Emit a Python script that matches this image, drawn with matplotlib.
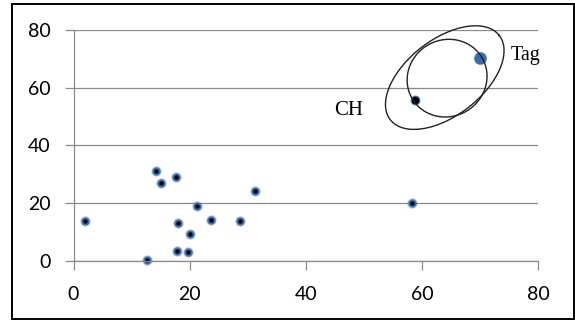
import numpy as np
import matplotlib
matplotlib.use("Agg")
import matplotlib.pyplot as plt
from matplotlib.patches import Rectangle

# scattered sensor nodes
node_x = [1.9, 12.6, 14.2, 15.1, 17.6, 18.0, 17.8, 19.7, 20.1, 21.3, 23.7, 28.7, 31.2, 58.3]
node_y = [13.7, 0.1, 31.1, 27.0, 29.1, 13.2, 3.5, 3.0, 9.1, 18.9, 14.1, 13.7, 24.2, 20.0]

ch_x, ch_y = [58.8], [55.8]
tag_x, tag_y = [69.9], [70.2]

x_ticks = [0, 20, 40, 60, 80]
y_ticks = [0, 20, 40, 60, 80]

W, H = 575, 320
left, right, top, bottom = 73.5, 538.3, 30.0, 260.7

fig = plt.figure(figsize=(W / 100, H / 100), dpi=100)
ax = fig.add_axes([left / W, (H - bottom) / H, (right - left) / W, (bottom - top) / H])

# outer frame
fig.patches.append(Rectangle((12 / W, 1.2 / H), 561.8 / W, 314.8 / H, transform=fig.transFigure,
                             fill=False, edgecolor="black", linewidth=1.4))

ax.set_xlim(0, 80)
ax.set_ylim(0, 80)
ax.set_xticks(x_ticks)
ax.set_yticks(y_ticks)
ax.set_xticklabels([str(v) for v in x_ticks], fontfamily="Lato", fontsize=14)
ax.set_yticklabels([str(v) for v in y_ticks], fontfamily="Lato", fontsize=14)

grey = "#8a8a8a"
for s in ["top", "right"]:
    ax.spines[s].set_visible(False)
ax.spines["left"].set_color(grey)
ax.spines["bottom"].set_color(grey)
ax.spines["left"].set_linewidth(0.9)
ax.spines["bottom"].set_linewidth(0.9)
ax.tick_params(axis="x", direction="out", length=6.5, width=0.9, color=grey, pad=12)
ax.tick_params(axis="y", direction="out", length=6.5, width=0.9, color=grey, pad=10)
ax.yaxis.grid(True, color=grey, linewidth=0.9)
ax.set_axisbelow(True)

blue = "#4a7ebb"
ax.plot(node_x, node_y, "o", ms=7.5, color=blue, alpha=0.4, mec="none", clip_on=False)
ax.plot(node_x, node_y, "o", ms=6.0, color="#3f72b0", mec="none", clip_on=False)
ax.plot(node_x, node_y, "o", ms=3.2, color="black", mec="none", clip_on=False)

ax.plot(tag_x, tag_y, "o", ms=9.5, color="#3e6aa6", alpha=0.6, mec="none")
ax.plot(tag_x, tag_y, "o", ms=8.5, color="#3e6aa6", mec="none")
ax.plot(ch_x, ch_y, "o", ms=6.3, color="black", mec=blue, mew=0.8)

# ellipses drawn in pixel geometry
sx = (right - left) / 80
sy = (bottom - top) / 80


def ellipse(cx, cy, a, b, ang):
    t = np.linspace(0, 2 * np.pi, 300)
    th = np.radians(ang)
    dx = a * np.cos(t) * np.cos(th) - b * np.sin(t) * np.sin(th)
    dy = a * np.cos(t) * np.sin(th) + b * np.sin(t) * np.cos(th)
    ax.plot(cx + dx / sx, cy + dy / sy, color="#222222", linewidth=1.0, clip_on=False)


ellipse(63.9, 63.5, 68.9, 38.1, 37.7)
ellipse(64.3, 63.3, 40.5, 38.3, 30)

ax.text(ch_x[0] - 11.4, ch_y[0] - 3.7, "CH", fontfamily="Liberation Serif", fontsize=15,
        ha="center", va="center")
ax.text(tag_x[0] + 5.4, tag_y[0] + 1.1, "Tag", fontfamily="Liberation Serif", fontsize=14.5,
        ha="left", va="center")

fig.savefig("out.png", dpi=100)
